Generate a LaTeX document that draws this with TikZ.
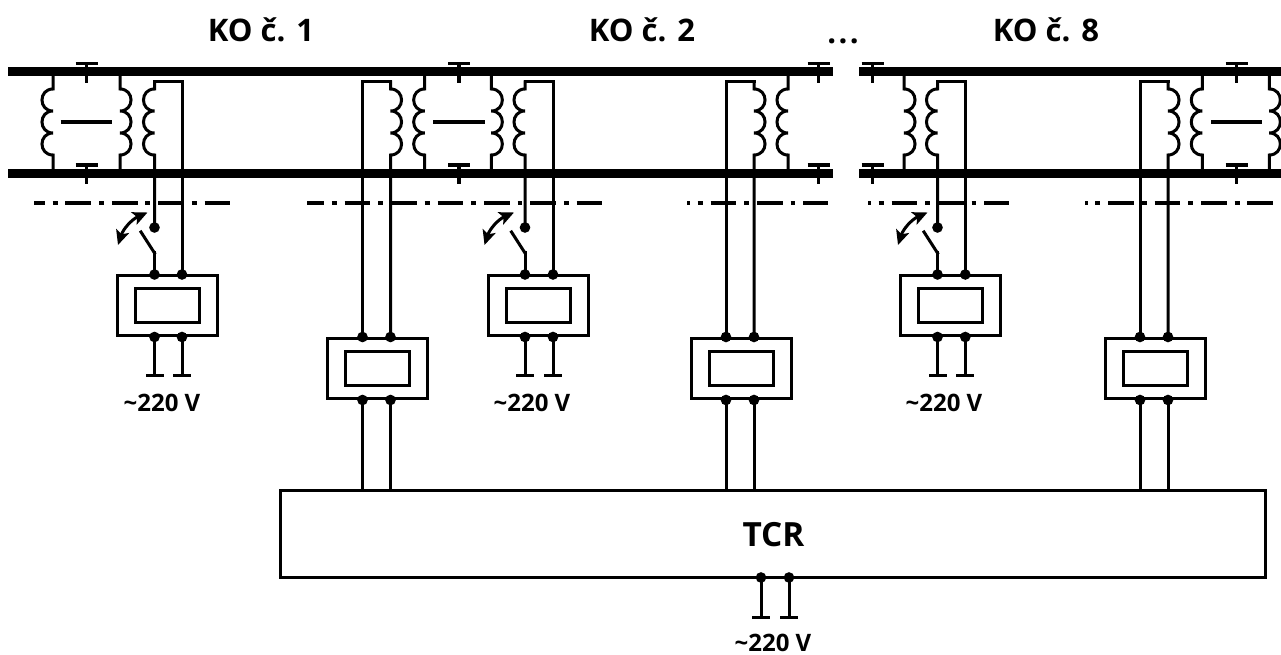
\documentclass[tikz,border=0pt]{standalone}
\usepackage{fontspec}
\setmainfont{Open Sans}
\usetikzlibrary{arrows.meta}

\begin{document}
\begin{tikzpicture}[x=0.75pt,y=-0.75pt]
\tikzstyle{wire}=[line width=2.25pt,line cap=rect]
\tikzstyle{bus}=[line width=6.3pt]
\tikzstyle{plate}=[line width=2.7pt]
\tikzstyle{border}=[line width=2.8pt,dash pattern=on 19.3pt off 5.9pt on 3.7pt off 5.9pt]
\tikzstyle{dot}=[circle,fill=black,inner sep=0pt,minimum size=8pt]
\tikzstyle{relay}=[draw,line width=2.25pt,inner sep=0pt,minimum width=75pt,minimum height=45.5pt]
\tikzstyle{core}=[draw,line width=2.25pt,inner sep=0pt,minimum width=48pt,minimum height=25.5pt]
\tikzstyle{title}=[font=\bfseries\fontsize{23.3}{23.3}\selectfont,anchor=base,inner sep=0pt]
\tikzstyle{volt}=[font=\bfseries\fontsize{18}{18}\selectfont,anchor=base,inner sep=0pt]
\tikzstyle{swing}=[line cap=butt,{Stealth[length=11pt,width=10pt,inset=2.5pt]}-{Stealth[length=11pt,width=10pt,inset=2.5pt]},bend left=24]
\tikzstyle{coilleft}=[to path={-- (\tikztostart |- coiltop)
  .. controls +(-14.7,0) and +(-14.7,0) .. ++(0,22)
  .. controls +(-14.7,0) and +(-14.7,0) .. ++(0,22)
  .. controls +(-14.7,0) and +(-14.7,0) .. ++(0,22) -- (\tikztotarget)}]
\tikzstyle{coilright}=[to path={-- (\tikztostart |- coiltop)
  .. controls +(14.7,0) and +(14.7,0) .. ++(0,22)
  .. controls +(14.7,0) and +(14.7,0) .. ++(0,22)
  .. controls +(14.7,0) and +(14.7,0) .. ++(0,22) -- (\tikztotarget)}]
\tikzstyle{tee}=[to path={(\tikztostart) ++(-11,0) -- ++(22,0) (\tikztostart) -- (\tikztotarget)}]
\tikzstyle{lug}=[to path={-- (\tikztotarget) ++(-7.5,0) -- ++(15,0)}]

\useasboundingbox (0,0) rectangle (1281,655);
\coordinate (coiltop) at (0,89);

% titles
\node[title] (ko1) at (261,42) {KO č. 1};
\node[title] (ko2) at (642,42) {KO č. 2};
\node[title] (dots) at (843,43.5) {.\kern1.8pt.\kern1.8pt.};
\node[title] (ko8) at (1046,42) {KO č. 8};

% buses
\coordinate (busa1) at (8,71.5);
\coordinate (busa2) at (833,71.5);
\coordinate (busb1) at (8,173.5);
\coordinate (busb2) at (833,173.5);
\coordinate (busc1) at (859,71.5);
\coordinate (busc2) at (1281,71.5);
\coordinate (busd1) at (859,173.5);
\coordinate (busd2) at (1281,173.5);
\draw[bus] (busa1) -- (busa2);
\draw[bus] (busb1) -- (busb2);
\draw[bus] (busc1) -- (busc2);
\draw[bus] (busd1) -- (busd2);

% tees on the buses
\coordinate (tu1) at (86.5,63.5);  \coordinate (tv1) at (86.5,83);
\coordinate (tw1) at (86.5,165);   \coordinate (tx1) at (86.5,184);
\coordinate (tu2) at (459,63.5);   \coordinate (tv2) at (459,83);
\coordinate (tw2) at (459,165);    \coordinate (tx2) at (459,184);
\coordinate (tu3) at (818.5,63.5); \coordinate (tv3) at (818.5,83);
\coordinate (tw3) at (818.5,165);  \coordinate (tx3) at (818.5,184);
\coordinate (tu4) at (872.5,63.5); \coordinate (tv4) at (872.5,83);
\coordinate (tw4) at (872.5,165);  \coordinate (tx4) at (872.5,184);
\coordinate (tu5) at (1236.5,63.5); \coordinate (tv5) at (1236.5,83);
\coordinate (tw5) at (1236.5,165);  \coordinate (tx5) at (1236.5,184);
\path[plate]
  (tu1) edge[tee] (tv1)
  (tw1) edge[tee] (tx1)
  (tu2) edge[tee] (tv2)
  (tw2) edge[tee] (tx2)
  (tu3) edge[tee] (tv3)
  (tw3) edge[tee] (tx3)
  (tu4) edge[tee] (tv4)
  (tw4) edge[tee] (tx4)
  (tu5) edge[tee] (tv5)
  (tw5) edge[tee] (tx5)
;

% primary windings
\coordinate (pa1) at (53,71.5);     \coordinate (pb1) at (53,173.5);
\coordinate (pa2) at (120,71.5);    \coordinate (pb2) at (120,173.5);
\coordinate (pa3) at (424.7,71.5);  \coordinate (pb3) at (424.7,173.5);
\coordinate (pa4) at (491.3,71.5);  \coordinate (pb4) at (491.3,173.5);
\coordinate (pa5) at (788,71.5);    \coordinate (pb5) at (788,173.5);
\coordinate (pa6) at (904,71.5);    \coordinate (pb6) at (904,173.5);
\coordinate (pa7) at (1202.3,71.5); \coordinate (pb7) at (1202.3,173.5);
\coordinate (pa8) at (1269.3,71.5); \coordinate (pb8) at (1269.3,173.5);
\path[wire]
  (pa1) edge[coilleft] (pb1)
  (pa2) edge[coilright] (pb2)
  (pa3) edge[coilleft] (pb3)
  (pa4) edge[coilright] (pb4)
  (pa5) edge[coilleft] (pb5)
  (pa6) edge[coilright] (pb6)
  (pa7) edge[coilleft] (pb7)
  (pa8) edge[coilright] (pb8)
;

% bars between the windings
\coordinate (bar1a) at (60.7,122);  \coordinate (bar1b) at (111.7,122);
\coordinate (bar2a) at (433.3,122); \coordinate (bar2b) at (484.5,122);
\coordinate (bar3a) at (1211,122);  \coordinate (bar3b) at (1262,122);
\draw[plate] (bar1a) -- (bar1b);
\draw[plate] (bar2a) -- (bar2b);
\draw[plate] (bar3a) -- (bar3b);

% boundary lines
\coordinate (lim1a) at (34,203);   \coordinate (lim1b) at (230.7,203);
\coordinate (lim2a) at (307.3,203); \coordinate (lim2b) at (602.7,203);
\coordinate (lim3a) at (687.3,203); \coordinate (lim3b) at (828.3,203);
\coordinate (lim4a) at (868.3,203); \coordinate (lim4b) at (1009.3,203);
\coordinate (lim5a) at (1085,203);  \coordinate (lim5b) at (1272.7,203);
\draw[border,dash phase=11.25pt] (lim1a) -- (lim1b);
\draw[border,dash phase=6.75pt] (lim2a) -- (lim2b);
\draw[border,dash phase=17.4pt] (lim3a) -- (lim3b);
\draw[border,dash phase=17.4pt] (lim4a) -- (lim4b);
\draw[border,dash phase=17.4pt] (lim5a) -- (lim5b);

% boxes fed through a contact
\node[relay] (ra) at (167,305.5) {};
\node[core] (rac) at (ra.center) {};
\node[relay] (rb) at (538,305.5) {};
\node[core] (rbc) at (rb.center) {};
\node[relay] (rc) at (950,305.5) {};
\node[core] (rcc) at (rc.center) {};

% boxes going to TCR
\node[relay] (sa) at (377,368.5) {};
\node[core] (sac) at (sa.center) {};
\node[relay] (sb) at (741,368.5) {};
\node[core] (sbc) at (sb.center) {};
\node[relay] (sc) at (1155,368.5) {};
\node[core] (scc) at (sc.center) {};

\node[draw,line width=2.25pt,minimum width=739pt,minimum height=65.5pt,inner sep=0pt] (tcr) at (773,534) {};
\node[title,font=\bfseries\fontsize{25}{25}\selectfont] (tcrtext) at (773.5,546) {TCR};

% contact, first group
\coordinate (ka) at (154.5,82);
\coordinate (kb) at (182,82);
\node[dot] (kc) at (154.5,227.5) {};
\coordinate (kd) at (154.5,253);
\coordinate (ke) at (141,232);
\node[dot] (kf) at (154.5,274.5) {};
\node[dot] (kg) at (182,274.5) {};
\node[dot] (kh) at (154.5,337) {};
\node[dot] (ki) at (182,337) {};
\coordinate (kj) at (154.5,376);
\coordinate (kk) at (182,376);
\coordinate (kl) at (118,245);
\coordinate (km) at (147.5,212.5);
\path[wire]
  (ka) edge[coilleft] (kc)
  (ka) edge (kb)
  (kb) edge (kg)
  (kf) edge (kd)
  (kd) edge (ke)
  (kh) edge[lug] (kj)
  (ki) edge[lug] (kk)
  (kl) edge[swing] (km)
;

% contact, second group
\coordinate (la) at (525,82);
\coordinate (lb) at (553,82);
\node[dot] (lc) at (525,227.5) {};
\coordinate (ld) at (525,253);
\coordinate (le) at (511.5,232);
\node[dot] (lf) at (525,274.5) {};
\node[dot] (lg) at (553,274.5) {};
\node[dot] (lh) at (525,337) {};
\node[dot] (li) at (553,337) {};
\coordinate (lj) at (525,376);
\coordinate (lk) at (553,376);
\coordinate (ll) at (484.5,245);
\coordinate (lm) at (514,212.5);
\path[wire]
  (la) edge[coilleft] (lc)
  (la) edge (lb)
  (lb) edge (lg)
  (lf) edge (ld)
  (ld) edge (le)
  (lh) edge[lug] (lj)
  (li) edge[lug] (lk)
  (ll) edge[swing] (lm)
;

% contact, third group
\coordinate (ma) at (937.5,82);
\coordinate (mb) at (965.3,82);
\node[dot] (mc) at (937.5,227.5) {};
\coordinate (md) at (937.5,253);
\coordinate (me) at (924,232);
\node[dot] (mf) at (937.5,274.5) {};
\node[dot] (mg) at (965.3,274.5) {};
\node[dot] (mh) at (937.5,337) {};
\node[dot] (mi) at (965.3,337) {};
\coordinate (mj) at (937.5,376);
\coordinate (mk) at (965.3,376);
\coordinate (ml) at (898,245);
\coordinate (mm) at (927.5,212.5);
\path[wire]
  (ma) edge[coilleft] (mc)
  (ma) edge (mb)
  (mb) edge (mg)
  (mf) edge (md)
  (md) edge (me)
  (mh) edge[lug] (mj)
  (mi) edge[lug] (mk)
  (ml) edge[swing] (mm)
;

% windings going to TCR
\coordinate (na) at (362.5,82);
\coordinate (nb) at (390.5,82);
\node[dot] (nc) at (362.5,337) {};
\node[dot] (nd) at (390.5,337) {};
\node[dot] (ne) at (362.5,400) {};
\node[dot] (nf) at (390.5,400) {};
\coordinate (ng) at (362.5,490);
\coordinate (nh) at (390.5,490);
\coordinate (oa) at (726,82);
\coordinate (ob) at (754,82);
\node[dot] (oc) at (726,337) {};
\node[dot] (od) at (754,337) {};
\node[dot] (oe) at (726,400) {};
\node[dot] (of) at (754,400) {};
\coordinate (og) at (726,490);
\coordinate (oh) at (754,490);
\coordinate (qa) at (1140,82);
\coordinate (qb) at (1168,82);
\node[dot] (qc) at (1140,337) {};
\node[dot] (qd) at (1168,337) {};
\node[dot] (qe) at (1140,400) {};
\node[dot] (qf) at (1168,400) {};
\coordinate (qg) at (1140,490);
\coordinate (qh) at (1168,490);
\path[wire]
  (nc) edge (na)
  (na) edge (nb)
  (nb) edge[coilright] (nd)
  (ne) edge (ng)
  (nf) edge (nh)
  (oc) edge (oa)
  (oa) edge (ob)
  (ob) edge[coilright] (od)
  (oe) edge (og)
  (of) edge (oh)
  (qc) edge (qa)
  (qa) edge (qb)
  (qb) edge[coilright] (qd)
  (qe) edge (qg)
  (qf) edge (qh)
;

% TCR supply
\node[dot] (ta) at (761,577.5) {};
\node[dot] (tb) at (789,577.5) {};
\coordinate (tc) at (761,617);
\coordinate (td) at (789,617);
\path[wire]
  (ta) edge[lug] (tc)
  (tb) edge[lug] (td)
;

\node[volt] (va) at (162,411.5) {\textasciitilde220 V};
\node[volt] (vb) at (532,411.5) {\textasciitilde220 V};
\node[volt] (vc) at (944,411.5) {\textasciitilde220 V};
\node[volt] (vd) at (773,651.5) {\textasciitilde220 V};
\end{tikzpicture}
\end{document}
